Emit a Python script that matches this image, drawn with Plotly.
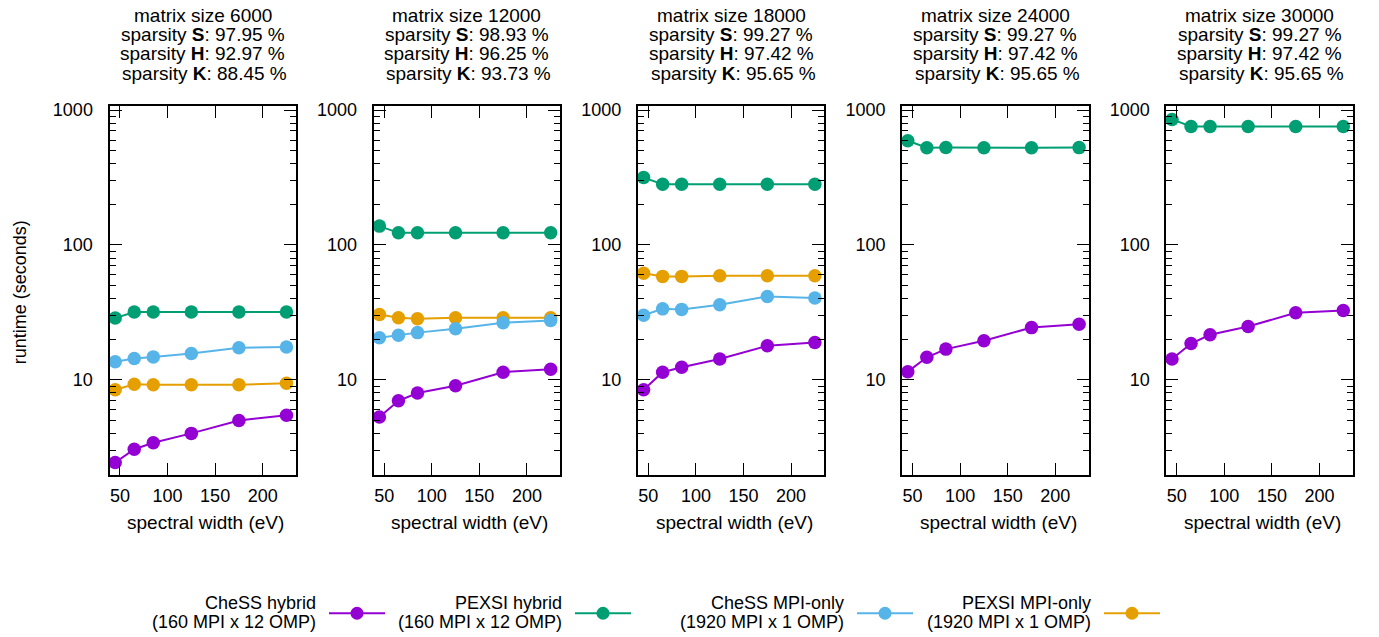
import plotly.graph_objects as go

# ---------------- data ----------------
spectral_width = [45, 65, 85, 125, 175, 225]
matrix_sizes = [6000, 12000, 18000, 24000, 30000]
sparsity_S = ["97.95", "98.93", "99.27", "99.27", "99.27"]
sparsity_H = ["92.97", "96.25", "97.42", "97.42", "97.42"]
sparsity_K = ["88.45", "93.73", "95.65", "95.65", "95.65"]

chess_hybrid = [
    [2.44, 3.06, 3.42, 4.01, 5.0, 5.46],
    [5.31, 7.0, 7.98, 9.04, 11.4, 12.0],
    [8.44, 11.4, 12.4, 14.3, 17.9, 18.9],
    [11.5, 14.7, 16.9, 19.5, 24.4, 25.8],
    [14.3, 18.6, 21.6, 24.9, 31.4, 32.7],
]
pexsi_hybrid = [
    [28.7, 31.8, 31.8, 31.8, 31.8, 31.8],
    [138, 123, 123, 123, 123, 123],
    [316, 282, 282, 282, 282, 282],
    [592, 526, 529, 526, 526, 527],
    [853, 757, 757, 757, 757, 757],
]
chess_mpi = [
    [13.6, 14.4, 14.8, 15.7, 17.3, 17.5],
    [20.5, 21.4, 22.4, 23.9, 26.5, 27.6],
    [30.1, 33.6, 33.3, 36.0, 41.5, 40.5],
    None,
    None,
]
pexsi_mpi = [
    [8.44, 9.29, 9.19, 9.19, 9.19, 9.44],
    [30.5, 28.9, 28.4, 28.9, 28.9, 28.9],
    [61.8, 58.5, 58.5, 59.2, 59.2, 59.2],
    None,
    None,
]

series_names = ["CheSS hybrid", "PEXSI hybrid", "CheSS MPI-only", "PEXSI MPI-only"]
series_sub = ["(160 MPI x 12 OMP)", "(160 MPI x 12 OMP)", "(1920 MPI x 1 OMP)", "(1920 MPI x 1 OMP)"]
series_data = [chess_hybrid, pexsi_hybrid, chess_mpi, pexsi_mpi]
series_colors = ["#9400d3", "#009e73", "#56b4e9", "#e69f00"]
plot_order = [1, 3, 2, 0]  # draw order

y_major = [10, 100, 1000]
y_minor = [3, 4, 5, 6, 7, 8, 9, 20, 30, 40, 50, 60, 70, 80, 90, 200, 300, 400, 500, 600, 700, 800, 900]
x_ticks = [50, 100, 150, 200]

# ---------------- layout ----------------
W, H = 1379, 637
FONT = "Liberation Sans, Arial, Helvetica, sans-serif"

def px_x(p):
    return p / W

def px_y(p):
    return 1 - p / H

panel_left0 = 109.5
panel_step = 264.2
panel_w = 186.5
top_px, bot_px = 101, 473

fig = go.Figure()
annotations = []
shapes = []

for i in range(5):
    ax = "" if i == 0 else str(i + 1)
    xa = "x" + ax
    ya = "y" + ax
    for s in plot_order:
        d = series_data[s][i]
        if d is None:
            continue
        fig.add_trace(go.Scatter(
            x=spectral_width, y=d, mode="lines+markers",
            line=dict(color=series_colors[s], width=2),
            marker=dict(color=series_colors[s], size=13.5),
            name=series_names[s], showlegend=False,
            xaxis=xa, yaxis=ya, cliponaxis=False,
        ))
    x0 = panel_left0 + i * panel_step
    x1 = x0 + panel_w
    common = dict(showline=True, linecolor="black", linewidth=2, mirror="allticks",
                  ticks="inside", tickcolor="black", tickwidth=1, ticklen=12,
                  showgrid=False, zeroline=False,
                  tickfont=dict(family=FONT, size=18, color="black"))
    fig.layout["xaxis" + ax] = dict(
        domain=[px_x(x0), px_x(x1)], range=[39, 235], anchor=ya,
        tickvals=x_ticks, ticklabelstandoff=4, **common)
    fig.layout["yaxis" + ax] = dict(
        domain=[px_y(bot_px), px_y(top_px)], type="log", range=[0.298, 3.03], anchor=xa,
        tickvals=y_major, ticktext=[str(v) for v in y_major], ticklabelstandoff=11,
        minor=dict(tickvals=y_minor, ticks="inside", ticklen=6, tickcolor="black", tickwidth=1),
        **common)
    cx = (x0 + x1) / 2
    title_lines = [
        f"matrix size {matrix_sizes[i]}",
        f"sparsity <b>S</b>: {sparsity_S[i]} %",
        f"sparsity <b>H</b>: {sparsity_H[i]} %",
        f"sparsity <b>K</b>: {sparsity_K[i]} %",
    ]
    for j, (t, yy) in enumerate(zip(title_lines, [10, 29, 48, 68])):
        annotations.append(dict(text=t, x=px_x(cx + (2 if j == 3 else 0)), y=px_y(yy),
                                xref="paper", yref="paper", xanchor="center", yanchor="middle",
                                showarrow=False, font=dict(family=FONT, size=19, color="black")))
    annotations.append(dict(text="spectral width (eV)", x=px_x(cx + 3), y=px_y(521),
                            xref="paper", yref="paper", xanchor="center", yanchor="middle",
                            showarrow=False, font=dict(family=FONT, size=19, color="black")))

annotations.append(dict(text="runtime (seconds)", x=px_x(20), y=px_y(289), textangle=-90,
                        xref="paper", yref="paper", xanchor="center", yanchor="middle",
                        showarrow=False, font=dict(family=FONT, size=18, color="black")))

# ---------------- legend (manual, gnuplot style) ----------------
legend_right = [318, 564, 846, 1093]
for k in range(4):
    r = legend_right[k]
    annotations.append(dict(text=series_names[k], x=px_x(r), y=px_y(603), xref="paper", yref="paper",
                            xanchor="right", yanchor="middle", showarrow=False,
                            font=dict(family=FONT, size=18, color="black")))
    annotations.append(dict(text=series_sub[k], x=px_x(r), y=px_y(622), xref="paper", yref="paper",
                            xanchor="right", yanchor="middle", showarrow=False,
                            font=dict(family=FONT, size=18, color="black")))
    shapes.append(dict(type="line", xref="paper", yref="paper",
                       x0=px_x(r + 11), x1=px_x(r + 67), y0=px_y(613), y1=px_y(613),
                       line=dict(color=series_colors[k], width=2)))
    mcx, mcy, rad = r + 39, 613, 6.5
    shapes.append(dict(type="circle", xref="paper", yref="paper",
                       x0=px_x(mcx - rad), x1=px_x(mcx + rad), y0=px_y(mcy + rad), y1=px_y(mcy - rad),
                       fillcolor=series_colors[k], line=dict(width=0)))

fig.update_layout(
    width=W, height=H, autosize=False,
    margin=dict(l=0, r=0, t=0, b=0),
    paper_bgcolor="white", plot_bgcolor="white",
    showlegend=False, hovermode=False,
    annotations=annotations, shapes=shapes,
    font=dict(family=FONT, size=18, color="black"),
)

fig.write_html(
    "out.html",
    config={"displayModeBar": False, "staticPlot": True},
    post_script="document.body.style.margin='0px';document.body.style.padding='0px';document.body.style.overflow='hidden';",
)
